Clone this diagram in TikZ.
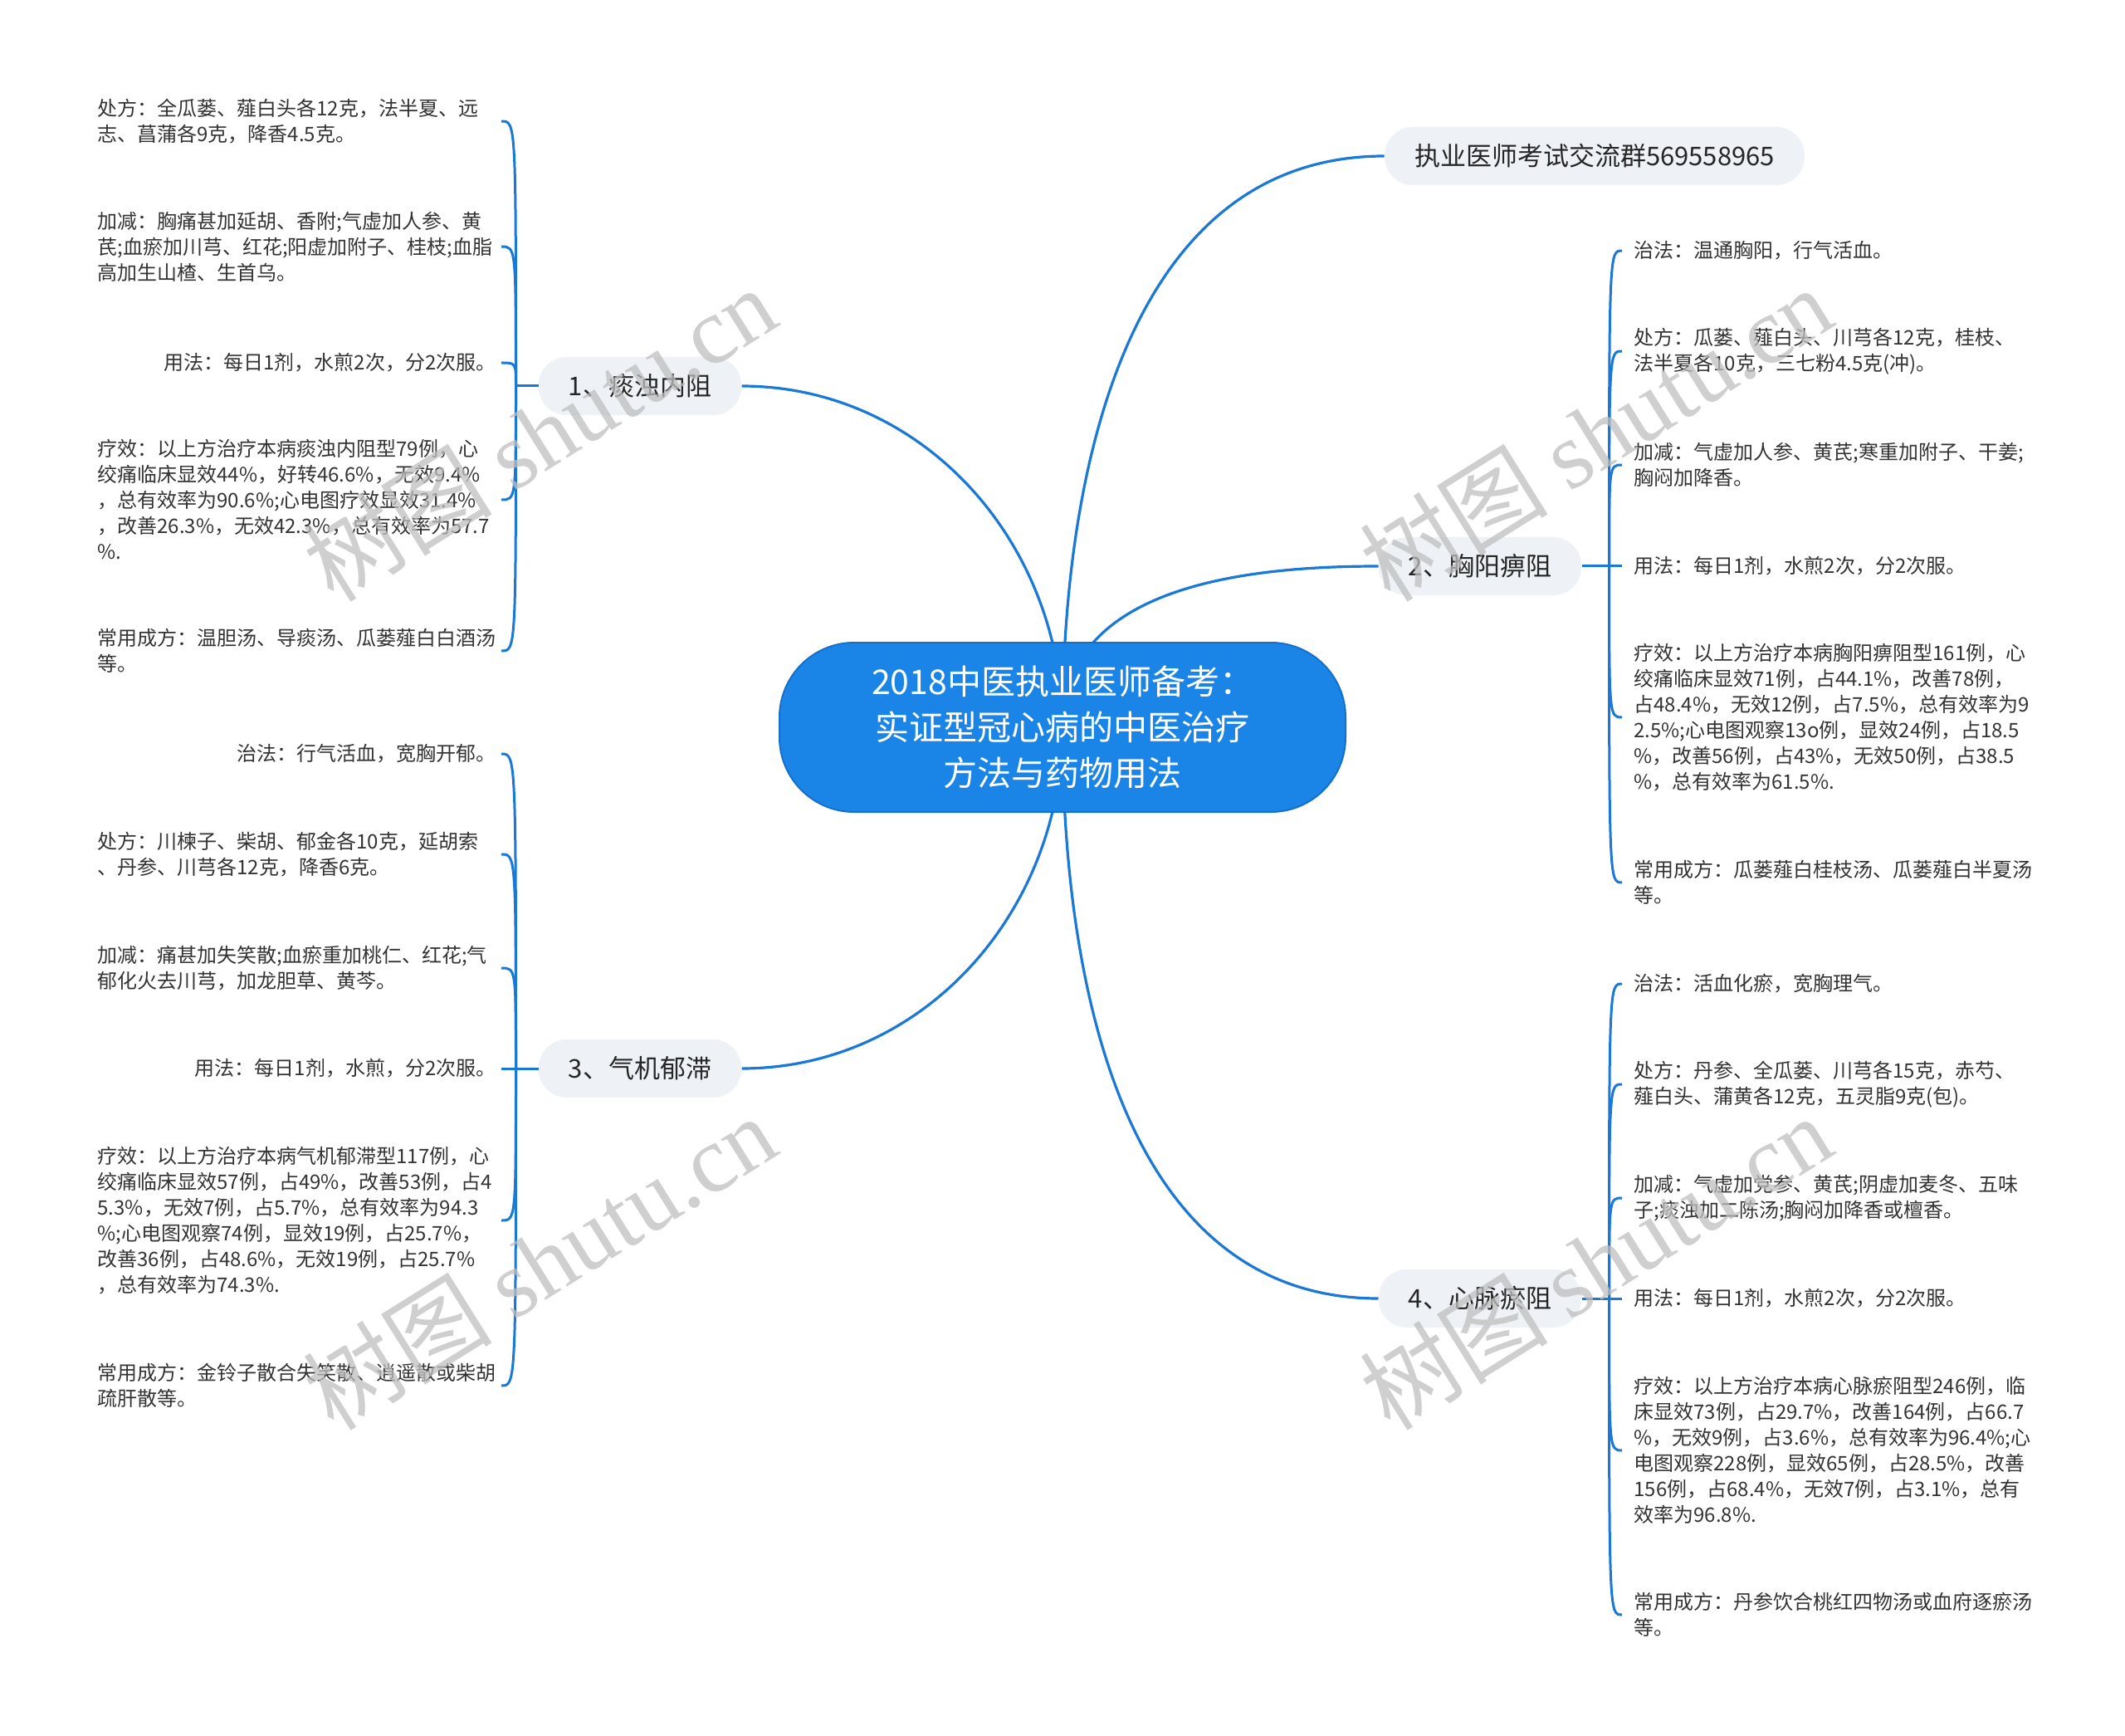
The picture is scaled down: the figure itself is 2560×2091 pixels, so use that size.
\documentclass[tikz,border=0pt]{standalone}
\usepackage{fontspec}
\setmainfont{Noto Sans CJK SC}
\newfontfamily\wmfont{Liberation Serif}
\usetikzlibrary{positioning, backgrounds}

\definecolor{linkblue}{HTML}{1A78D6}
\definecolor{hubblue}{HTML}{1B84E7}
\definecolor{hubedge}{HTML}{1570CC}
\definecolor{topicgray}{HTML}{EEF1F5}
\definecolor{leafgray}{HTML}{333333}

\begin{document}
\begin{tikzpicture}[
  x=0.5pt, y=0.5pt,
  hub/.style     = {rectangle, rounded corners=45pt, fill=hubblue, draw=hubedge,
                    line width=1pt, text=white, minimum width=341pt,
                    minimum height=102pt, align=center,
                    font=\fontsize{20.5}{27.5}\selectfont},
  topic/.style   = {rectangle, rounded corners=17pt, fill=topicgray,
                    minimum height=35pt, inner xsep=18pt, text=black!85,
                    font=\fontsize{15.5}{18}\selectfont},
  leaf/.style    = {inner ysep=2pt, align=left, text=leafgray,
                    font=\fontsize{12}{15.5}\selectfont},
  leafL/.style   = {leaf, inner xsep=3pt, anchor=east},
  leafR/.style   = {leaf, inner xsep=7pt, anchor=west},
  wideleaf/.style= {text width=240pt},
  trunk/.style   = {draw=linkblue, line width=1.6pt},
  twig/.style    = {draw=linkblue, line width=1.5pt},
  wmark/.style   = {text=gray!50, opacity=0.75, rotate=32,
                    font=\fontsize{57}{57}\selectfont}
]
\useasboundingbox (0,0) rectangle (2560,-2091);

% ── Centre and main topics ───────────────────────────────────────────────────
\node[hub] (hub) at (1280,-876)
  {2018中医执业医师备考：\\实证型冠心病的中医治疗\\方法与药物用法};

\node[topic] (exam) at (1921,-188) {执业医师考试交流群569558965};
\node[topic] (t1) at (771,-465)  {1、痰浊内阻};
\node[topic] (t2) at (1783,-682) {2、胸阳痹阻};
\node[topic] (t3) at (771,-1287) {3、气机郁滞};
\node[topic] (t4) at (1783,-1564) {4、心脉瘀阻};

\coordinate[left=13.5pt of t1] (j1);
\coordinate[right=16.5pt of t2] (j2);
\coordinate[left=13.5pt of t3] (j3);
\coordinate[right=16.5pt of t4] (j4);

% ── 1、痰浊内阻 (left) ─────────────────────────────────────────────────────────
\node[leafL, wideleaf] (l1a) at (604,-146)
  {处方：全瓜蒌、薤白头各12克，法半夏、远\\志、菖蒲各9克，降香4.5克。};
\node[leafL, wideleaf] (l1b) at (604,-297)
  {加减：胸痛甚加延胡、香附;气虚加人参、黄\\芪;血瘀加川芎、红花;阳虚加附子、桂枝;血脂\\高加生山楂、生首乌。};
\node[leafL] (l1c) at (604,-437) {用法：每日1剂，水煎2次，分2次服。};
\node[leafL, wideleaf] (l1d) at (604,-602)
  {疗效：以上方治疗本病痰浊内阻型79例，心\\绞痛临床显效44\%，好转46.6\%，无效9.4\%\\，总有效率为90.6\%;心电图疗效显效31.4\%\\，改善26.3\%，无效42.3\%，总有效率为57.7\\\%.};
\node[leafL, wideleaf] (l1e) at (604,-784)
  {常用成方：温胆汤、导痰汤、瓜蒌薤白白酒汤\\等。};

% ── 3、气机郁滞 (left) ─────────────────────────────────────────────────────────
\node[leafL] (l3a) at (604,-908) {治法：行气活血，宽胸开郁。};
\node[leafL, wideleaf] (l3b) at (604,-1029)
  {处方：川楝子、柴胡、郁金各10克，延胡索\\、丹参、川芎各12克，降香6克。};
\node[leafL, wideleaf] (l3c) at (604,-1166)
  {加减：痛甚加失笑散;血瘀重加桃仁、红花;气\\郁化火去川芎，加龙胆草、黄芩。};
\node[leafL] (l3d) at (604,-1287) {用法：每日1剂，水煎，分2次服。};
\node[leafL, wideleaf] (l3e) at (604,-1470)
  {疗效：以上方治疗本病气机郁滞型117例，心\\绞痛临床显效57例，占49\%，改善53例，占4\\5.3\%，无效7例，占5.7\%，总有效率为94.3\\\%;心电图观察74例，显效19例，占25.7\%，\\改善36例，占48.6\%，无效19例，占25.7\%\\，总有效率为74.3\%.};
\node[leafL, wideleaf] (l3f) at (604,-1669)
  {常用成方：金铃子散合失笑散、逍遥散或柴胡\\疏肝散等。};

% ── 2、胸阳痹阻 (right) ────────────────────────────────────────────────────────
\node[leafR] (l2a) at (1954,-302) {治法：温通胸阳，行气活血。};
\node[leafR] (l2b) at (1954,-423)
  {处方：瓜蒌、薤白头、川芎各12克，桂枝、\\法半夏各10克，三七粉4.5克(冲)。};
\node[leafR] (l2c) at (1954,-560)
  {加减：气虚加人参、黄芪;寒重加附子、干姜;\\胸闷加降香。};
\node[leafR] (l2d) at (1954,-682) {用法：每日1剂，水煎2次，分2次服。};
\node[leafR] (l2e) at (1954,-864)
  {疗效：以上方治疗本病胸阳痹阻型161例，心\\绞痛临床显效71例，占44.1\%，改善78例，\\占48.4\%，无效12例，占7.5\%，总有效率为9\\2.5\%;心电图观察13o例，显效24例，占18.5\\\%，改善56例，占43\%，无效50例，占38.5\\\%，总有效率为61.5\%.};
\node[leafR] (l2f) at (1954,-1063)
  {常用成方：瓜蒌薤白桂枝汤、瓜蒌薤白半夏汤\\等。};

% ── 4、心脉瘀阻 (right) ────────────────────────────────────────────────────────
\node[leafR] (l4a) at (1954,-1185) {治法：活血化瘀，宽胸理气。};
\node[leafR] (l4b) at (1954,-1306)
  {处方：丹参、全瓜蒌、川芎各15克，赤芍、\\薤白头、蒲黄各12克，五灵脂9克(包)。};
\node[leafR] (l4c) at (1954,-1443)
  {加减：气虚加党参、黄芪;阴虚加麦冬、五味\\子;痰浊加二陈汤;胸闷加降香或檀香。};
\node[leafR] (l4d) at (1954,-1564) {用法：每日1剂，水煎2次，分2次服。};
\node[leafR] (l4e) at (1954,-1747)
  {疗效：以上方治疗本病心脉瘀阻型246例，临\\床显效73例，占29.7\%，改善164例，占66.7\\\%，无效9例，占3.6\%，总有效率为96.4\%;心\\电图观察228例，显效65例，占28.5\%，改善\\156例，占68.4\%，无效7例，占3.1\%，总有\\效率为96.8\%.};
\node[leafR] (l4f) at (1954,-1945)
  {常用成方：丹参饮合桃红四物汤或血府逐瘀汤\\等。};

% ── Connectors ───────────────────────────────────────────────────────────────
\begin{scope}[on background layer]
  \fill[white] (0,0) rectangle (2560,-2091);
  \draw[trunk] (hub.center) to[out=90, in=180] (exam.west);
  \draw[trunk] (hub.center) to[out=90, in=0] (t1.east);
  \draw[trunk] (hub.center) to[out=90, in=180] (t2.west);
  \draw[trunk] (hub.center) to[out=-90, in=0] (t3.east);
  \draw[trunk] (hub.center) to[out=-90, in=180] (t4.west);
\end{scope}

\draw[twig] (t1.west) -- (j1);
\draw[twig] (t2.east) -- (j2);
\draw[twig] (t3.west) -- (j3);
\draw[twig] (t4.east) -- (j4);

\foreach \leaf in {l1a, l1b, l1c, l1d, l1e}
  \draw[twig] (j1) .. controls (j1 |- \leaf.east) .. (\leaf.east);
\foreach \leaf in {l3a, l3b, l3c, l3d, l3e, l3f}
  \draw[twig] (j3) .. controls (j3 |- \leaf.east) .. (\leaf.east);
\foreach \leaf in {l2a, l2b, l2c, l2d, l2e, l2f}
  \draw[twig] (j2) .. controls (j2 |- \leaf.west) .. (\leaf.west);
\foreach \leaf in {l4a, l4b, l4c, l4d, l4e, l4f}
  \draw[twig] (j4) .. controls (j4 |- \leaf.west) .. (\leaf.west);

% ── Watermarks ───────────────────────────────────────────────────────────────
\node[wmark] (wm1) at (650,-522)  {树图 {\wmfont shutu.cn}};
\node[wmark] (wm2) at (1922,-522) {树图 {\wmfont shutu.cn}};
\node[wmark] (wm3) at (650,-1520) {树图 {\wmfont shutu.cn}};
\node[wmark] (wm4) at (1922,-1520) {树图 {\wmfont shutu.cn}};

\end{tikzpicture}
\end{document}
